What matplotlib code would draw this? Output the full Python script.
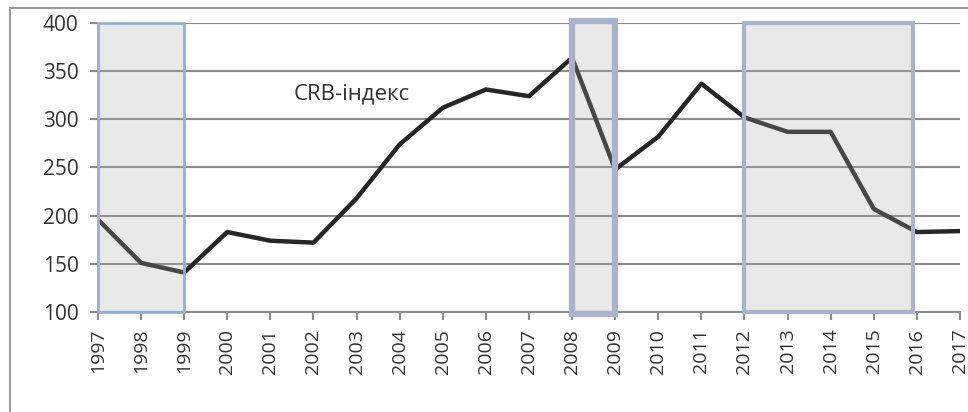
import matplotlib
matplotlib.use("Agg")
import matplotlib.pyplot as plt
from matplotlib.patches import Rectangle

plt.rcParams["font.family"] = ["Open Sans", "DejaVu Sans"]

# дані
years = list(range(1997, 2018))
crb = [196, 151, 141, 183, 174, 172, 218, 274, 312, 331, 324, 364,
       248, 282, 337, 302, 287, 287, 207, 183, 184]

# періоди, виділені сірим
shade_start = [1997, 2008, 2012]
shade_end = [1999, 2009, 2015.9]
shade_edge = ["#8fb1db", "#aab2cc", "#aab2cc"]
shade_lw = [2.0, 4.5, 3.0]

fig = plt.figure(figsize=(9.68, 4.12), dpi=100)
ax = fig.add_axes([0.1012, 0.2427, 0.8905, 0.7015])

# рамка діаграми
fig.patches.append(Rectangle((10 / 968, -0.05), 1.1, 1 - 8 / 412 + 0.05,
                             transform=fig.transFigure, fill=False,
                             edgecolor="#9a9a9a", linewidth=1.5))

ax.plot(years, crb, color="#262626", linewidth=3.2, zorder=3)

for s, e, ec, lw in zip(shade_start, shade_end, shade_edge, shade_lw):
    pad = 2 if lw > 4 else 0
    ax.add_patch(Rectangle((s, 100 - pad), e - s, 300 + 2 * pad,
                           facecolor=(0.67, 0.67, 0.67, 0.25),
                           edgecolor=ec, linewidth=lw, zorder=4, clip_on=False))

ax.text(2001.55, 326, "CRB-індекс", fontsize=16, color="#333333",
        va="center", ha="left")

ax.set_xlim(1997, 2017)
ax.set_ylim(100, 400)
ax.set_xticks(years)
ax.set_xticklabels([str(y) for y in years], rotation=90, fontsize=14,
                   color="#333333")
ax.set_yticks(range(100, 401, 50))
ax.tick_params(axis="y", labelsize=15, length=6, width=1.5,
               color="#8c8c8c", labelcolor="#333333", pad=8)
ax.tick_params(axis="x", length=6, width=1.5, color="#8c8c8c", pad=6)

ax.grid(axis="y", color="#8c8c8c", linewidth=1.5, zorder=1)
ax.set_axisbelow(True)
for side in ["top", "right", "left"]:
    ax.spines[side].set_visible(False)
ax.spines["bottom"].set_color("#8c8c8c")
ax.spines["bottom"].set_linewidth(1.5)

fig.savefig("out.png", dpi=100)
